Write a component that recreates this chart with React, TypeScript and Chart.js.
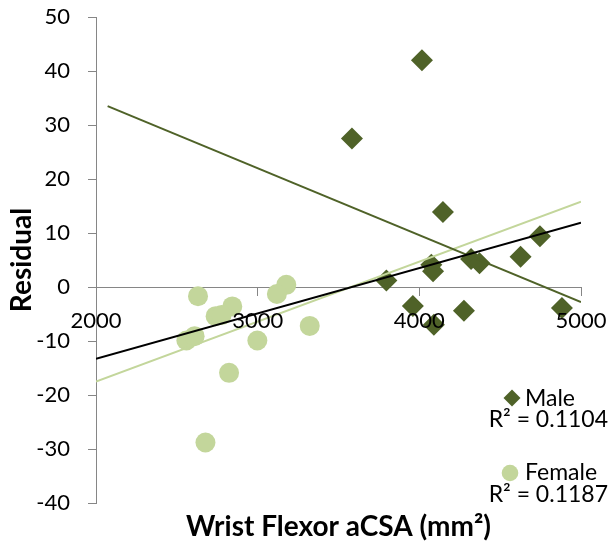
import React, { useEffect, useRef } from 'react';
import { Chart, registerables } from 'chart.js';

Chart.register(...registerables);

// Residuals against wrist flexor anatomical cross-sectional area
const maleX = [3583, 4016, 4146, 4746, 3796, 4074, 4085, 4320, 4372, 4626, 3960, 4090, 4276, 4882];
const maleY = [27.5, 42.0, 13.9, 9.4, 1.2, 4.1, 2.9, 5.2, 4.4, 5.6, -3.5, -7.0, -4.4, -3.9];

const femaleX = [2631, 3177, 3119, 2843, 2740, 2777, 3322, 2998, 2559, 2610, 2823, 2677];
const femaleY = [-1.7, 0.4, -1.3, -3.6, -5.4, -5.2, -7.2, -9.9, -9.9, -9.1, -15.9, -28.8];

// Linear trend lines (end points)
const maleTrendX = [2072, 5000];
const maleTrendY = [33.5, -2.8];
const femaleTrendX = [2000, 5000];
const femaleTrendY = [-17.5, 15.8];
const allTrendX = [2000, 5000];
const allTrendY = [-13.3, 11.9];

const seriesNames = ['Male', 'Female'];
const rSquared = ['R² = 0.1104', 'R² = 0.1187'];

const xTitle = 'Wrist Flexor aCSA (mm²)';
const yTitle = 'Residual';

const xMin = 2000;
const xMax = 5000;
const xStep = 1000;
const yMin = -40;
const yMax = 50;
const yStep = 10;

const FONT = 'Lato';
const MALE_COLOR = '#4F6228';
const FEMALE_COLOR = '#C3D69B';
const AXIS_COLOR = '#868686';

const pts = (xs: number[], ys: number[]) => xs.map((x, i) => ({ x, y: ys[i] }));

// Draws the x-axis title and the series key with R² values
const keyPlugin = {
  id: 'keyAndXTitle',
  afterDraw(chart: any) {
    const ctx = chart.ctx as CanvasRenderingContext2D;
    const area = chart.chartArea;
    ctx.save();
    ctx.fillStyle = '#000';
    ctx.font = `bold 28px ${FONT}`;
    ctx.textAlign = 'center';
    ctx.textBaseline = 'alphabetic';
    ctx.fillText(xTitle, (area.left + area.right) / 2, 536);

    // male marker
    ctx.fillStyle = MALE_COLOR;
    ctx.beginPath();
    const mx = 512, my = 398, mr = 8.5;
    ctx.moveTo(mx, my - mr);
    ctx.lineTo(mx + mr, my);
    ctx.lineTo(mx, my + mr);
    ctx.lineTo(mx - mr, my);
    ctx.closePath();
    ctx.fill();

    // female marker
    ctx.fillStyle = FEMALE_COLOR;
    ctx.beginPath();
    ctx.arc(510, 473, 8.3, 0, Math.PI * 2);
    ctx.fill();

    ctx.fillStyle = '#000';
    ctx.font = `23px ${FONT}`;
    ctx.textAlign = 'left';
    ctx.fillText(seriesNames[0], 525, 406);
    ctx.fillText(seriesNames[1], 525, 480);
    ctx.textAlign = 'right';
    ctx.fillText(rSquared[0], 608, 427);
    ctx.fillText(rSquared[1], 608, 502);
    ctx.restore();
  },
};

const noPadding = (s: any) => {
  s.paddingLeft = 0;
  s.paddingRight = 0;
  s.paddingTop = 0;
  s.paddingBottom = 0;
};

export default function App() {
  const ref = useRef<HTMLCanvasElement>(null);

  useEffect(() => {
    document.body.style.margin = '0';
    let chart: Chart | null = null;
    let cancelled = false;
    const tickFont = { family: FONT, size: 22 };

    const build = () => {
      if (cancelled || !ref.current) return;
      chart = new Chart(ref.current, {
        type: 'scatter',
        data: {
          datasets: [
            {
              label: 'All',
              data: pts(allTrendX, allTrendY),
              showLine: true,
              borderColor: '#000',
              borderWidth: 2,
              pointRadius: 0,
            },
            {
              label: 'Male trend',
              data: pts(maleTrendX, maleTrendY),
              showLine: true,
              borderColor: MALE_COLOR,
              borderWidth: 2,
              pointRadius: 0,
            },
            {
              label: 'Female trend',
              data: pts(femaleTrendX, femaleTrendY),
              showLine: true,
              borderColor: FEMALE_COLOR,
              borderWidth: 2,
              pointRadius: 0,
            },
            {
              label: seriesNames[0],
              data: pts(maleX, maleY),
              pointStyle: 'rectRot',
              pointRadius: 11,
              backgroundColor: MALE_COLOR,
              borderColor: MALE_COLOR,
              borderWidth: 0,
            },
            {
              label: seriesNames[1],
              data: pts(femaleX, femaleY),
              pointStyle: 'circle',
              pointRadius: 10,
              backgroundColor: FEMALE_COLOR,
              borderColor: FEMALE_COLOR,
              borderWidth: 0,
            },
          ],
        },
        options: {
          responsive: false,
          animation: false,
          layout: { padding: { left: 0, right: 30, top: 17, bottom: 47 } },
          plugins: {
            legend: { display: false },
            tooltip: { enabled: false },
          },
          scales: {
            x: {
              type: 'linear',
              position: { y: 0 } as any,
              min: xMin,
              max: xMax,
              ticks: {
                stepSize: xStep,
                padding: 13,
                color: '#000',
                font: tickFont,
                maxRotation: 0,
                autoSkip: false,
                z: 1,
                callback: (v: any) => String(v),
              },
              grid: { drawOnChartArea: false, drawTicks: true, tickLength: 8, color: AXIS_COLOR },
              border: { display: true, color: AXIS_COLOR, width: 1 },
              afterFit: (s: any) => {
                s.height = 0;
                noPadding(s);
              },
            },
            y: {
              type: 'linear',
              position: 'left',
              min: yMin,
              max: yMax,
              ticks: { stepSize: yStep, padding: 18, color: '#000', font: tickFont },
              grid: { drawOnChartArea: false, drawTicks: true, tickLength: 8, color: AXIS_COLOR },
              border: { display: true, color: AXIS_COLOR, width: 1 },
              title: {
                display: true,
                text: yTitle,
                color: '#000',
                font: { family: FONT, size: 28, weight: 'bold' },
                padding: { top: 5, bottom: 0 },
              },
              afterFit: (s: any) => {
                s.width = 96;
                noPadding(s);
              },
            },
          },
        },
        plugins: [keyPlugin],
      });
    };

    Promise.all([
      document.fonts.load(`22px ${FONT}`),
      document.fonts.load(`bold 28px ${FONT}`),
    ])
      .catch(() => undefined)
      .then(build);

    return () => {
      cancelled = true;
      if (chart) chart.destroy();
    };
  }, []);

  return (
    <div style={{ position: 'absolute', left: 0, top: 0, width: 611, height: 550, background: '#fff' }}>
      <canvas ref={ref} width={611} height={550} style={{ display: 'block', width: 611, height: 550 }} />
    </div>
  );
}
